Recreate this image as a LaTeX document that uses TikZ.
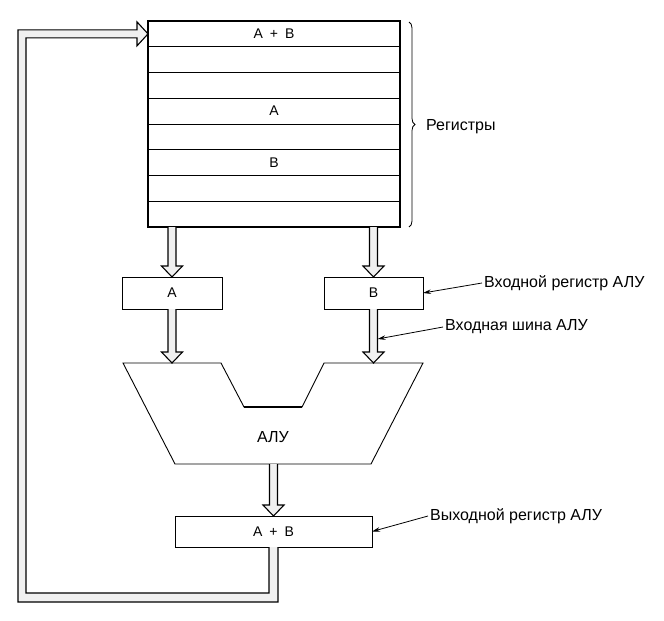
\documentclass[tikz,border=0pt]{standalone}
\usepackage{fontspec}
\setmainfont{Liberation Sans}
\usetikzlibrary{positioning,calc,arrows.meta,decorations.pathreplacing}

% wide bus arrow pointing down, from #1 (tail) to #2 (tip)
\newcommand\busdown[2]{%
  \draw[bus] ($(#1)+(-4,0)$) -- ($(#2)+(-4,-11)$) -- ($(#2)+(-10.5,-11)$) -- (#2)
    -- ($(#2)+(10.5,-11)$) -- ($(#2)+(4,-11)$) -- ($(#1)+(4,0)$);}

\begin{document}
\begin{tikzpicture}[x=1pt,y=-1pt,
  regrow/.style={draw,line width=0.8pt,minimum width=252pt,minimum height=25.75pt,inner sep=0pt,outer sep=0pt,font=\fontsize{14}{16}\selectfont},
  regbox/.style={draw,line width=0.9pt,minimum height=32pt,inner sep=0pt,outer sep=0pt,font=\fontsize{14}{16}\selectfont},
  lbl/.style={font=\fontsize{16}{18}\selectfont,inner sep=2pt},
  bus/.style={draw,line width=1.1pt,fill=black!6,line join=miter},
  callout/.style={line width=0.8pt,-{Stealth[length=8pt,width=4.5pt]}}]
    \useasboundingbox (0,0) rectangle (664,621);
    % register file
    \node[regrow] (r1) at (274,33.875) {A\enspace+\enspace B};
    \node[regrow, below=0pt of r1] (r2) {};
    \node[regrow, below=0pt of r2] (r3) {};
    \node[regrow, below=0pt of r3] (r4) {A};
    \node[regrow, below=0pt of r4] (r5) {};
    \node[regrow, below=0pt of r5] (r6) {B};
    \node[regrow, below=0pt of r6] (r7) {};
    \node[regrow, below=0pt of r7] (r8) {};
    \draw[line width=1.6pt] (r1.north west) rectangle (r8.south east);
    \draw[line width=0.8pt,decorate,decoration={brace,amplitude=6pt}] ($(r1.north east)+(9,1)$) -- ($(r8.south east)+(9,0)$);
    \node[lbl, anchor=west] (reglbl) at ($(r4.south east)+(24,3)$) {Регистры};
    % input registers
    \node[regbox, minimum width=100pt] (ina) at (172,293) {A};
    \node[regbox, minimum width=99pt] (inb) at (373.5,293) {B};
    % ALU
    \coordinate (alu1) at (123,363);
    \coordinate (alu2) at (221,363);
    \coordinate (alu3) at (244,407);
    \coordinate (alu4) at (302,407);
    \coordinate (alu5) at (324,363);
    \coordinate (alu6) at (423,363);
    \coordinate (alu7) at (371,464);
    \coordinate (alu8) at (175,464);
    \draw[line width=0.9pt] (alu1) -- (alu2) -- (alu3) -- (alu4) -- (alu5) -- (alu6) -- (alu7) -- (alu8) -- cycle;
    \draw[line width=1.6pt] (alu3) -- (alu4);
    \node[font=\fontsize{16}{18}\selectfont] (alu) at (273,437) {АЛУ};
    % output register
    \node[regbox, minimum width=197pt, minimum height=31pt] (outreg) at (273.5,531.5) {A\enspace+\enspace B};
    % buses
    \coordinate (busa) at (ina.north |- r8.south);
    \coordinate (busb) at (inb.north |- r8.south);
    \coordinate (aluina) at (ina.south |- alu1);
    \coordinate (aluinb) at (inb.south |- alu1);
    \coordinate (aluout) at (outreg.north |- alu7);
    \busdown{busa}{ina.north}
    \busdown{busb}{inb.north}
    \busdown{ina.south}{aluina}
    \busdown{inb.south}{aluinb}
    \busdown{aluout}{outreg.north}
    % feedback bus
    \coordinate (fbc) at (22,597.5);
    \draw[bus] ($(outreg.south)+(-4.5,0)$) -- ($(outreg.south |- fbc)+(-4.5,-4.5)$) -- ($(fbc)+(4,-4.5)$)
      -- ($(fbc |- r1.west)+(4,4)$) -- ($(r1.west)+(-11,4)$) -- ($(r1.west)+(-11,12)$) -- (r1.west)
      -- ($(r1.west)+(-11,-12)$) -- ($(r1.west)+(-11,-4)$) -- ($(fbc |- r1.west)+(-4,-4)$)
      -- ($(fbc)+(-4,4.5)$) -- ($(outreg.south |- fbc)+(4.5,4.5)$) -- ($(outreg.south)+(4.5,0)$);
    % callouts
    \node[lbl, anchor=west] (inreglbl) at (482,283) {Входной регистр АЛУ};
    \node[lbl, anchor=west] (inbuslbl) at (443,327) {Входная шина АЛУ};
    \node[lbl, anchor=west] (outreglbl) at (428,516) {Выходной регистр АЛУ};
    \coordinate (inbusr) at ($(inb.south)+(4,30)$);
    \draw[callout] (inreglbl.west) -- (inb.east);
    \draw[callout] (inbuslbl.west) -- (inbusr);
    \draw[callout] (outreglbl.west) -- (outreg.east);
\end{tikzpicture}
\end{document}
